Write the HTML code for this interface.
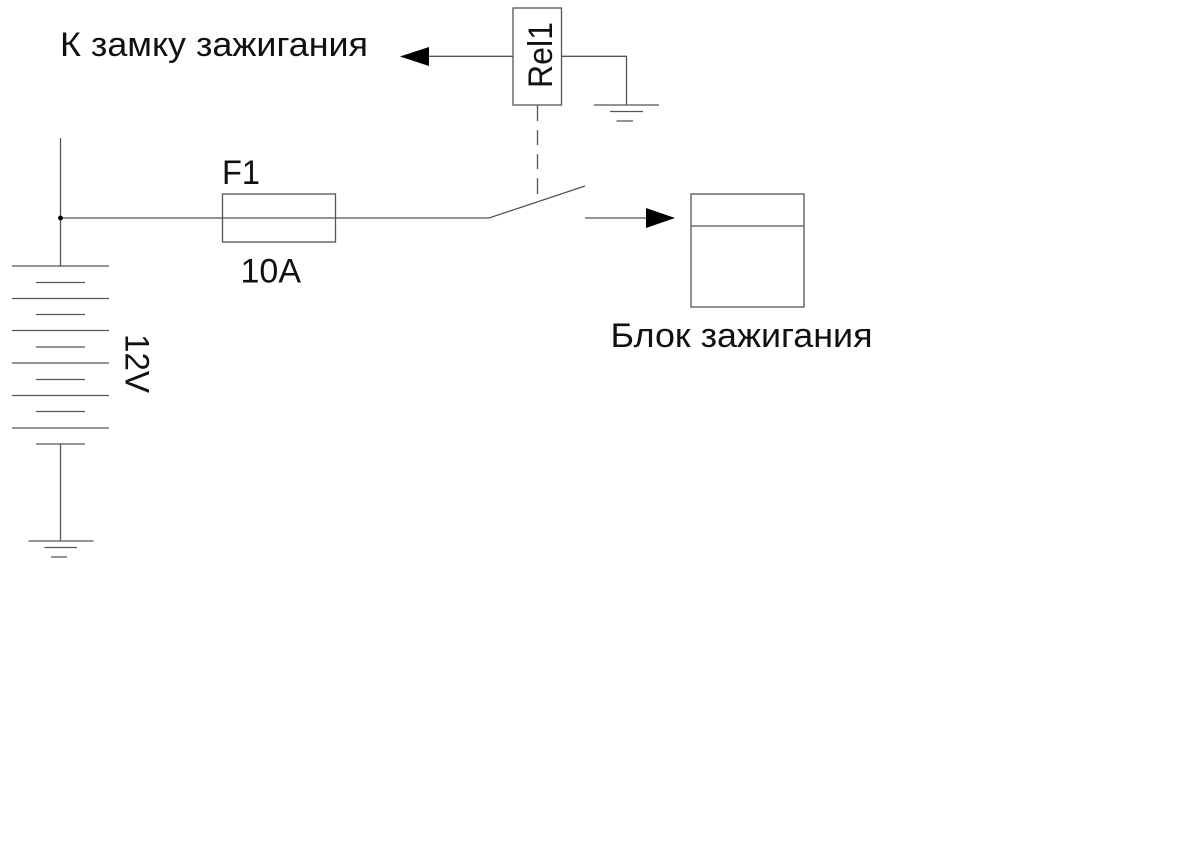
<!DOCTYPE html>
<html><head><meta charset="utf-8"><style>
html,body{margin:0;padding:0;background:#fff}
svg{display:block}
text{font-family:"Liberation Sans",sans-serif;font-size:34px;fill:#111}
</style></head><body>
<svg width="1200" height="848" viewBox="0 0 1200 848" xmlns="http://www.w3.org/2000/svg">
<rect width="1200" height="848" fill="#fff"/>
<g stroke="#555" stroke-width="1.3" fill="none">
<path d="M60.500 138V266M60.500 218H489L585 186"/>
<path d="M12 266H109M36 282.500H85M12 298.500H109M36 314.500H85M12 330.500H109M36 347H85M12 363H109M36 379.500H85M12 395.500H109M36 411.500H85M12 428H109M36 444H85"/>
<path d="M60.500 444V541M28.500 541H93.500M44.500 547.500H77M51 557H67"/>
<rect x="222.500" y="194" width="113" height="48"/>
<rect x="513" y="8" width="48.500" height="97"/>
<path d="M429 56.300H513M561.500 56.300H626.500V105M594 105H659M610 111.500H643M616.500 121H633"/>
<path d="M537.500 105V121M537.500 130V145M537.500 154V169M537.500 178V194"/>
<path d="M585 218H647"/>
<rect x="691" y="194" width="113" height="113"/>
<path d="M691 226H804"/>
</g>
<circle cx="60.500" cy="218" r="2.400" fill="#000"/>
<polygon points="400,56.500 429,47 429,66" fill="#000"/>
<polygon points="675,218 646,208 646,228" fill="#000"/>
<text x="60" y="56" textLength="308" lengthAdjust="spacingAndGlyphs" font-size="34">К замку зажигания</text>
<text x="610.500" y="347" textLength="262" lengthAdjust="spacingAndGlyphs">Блок зажигания</text>
<text x="222" y="184" textLength="38" lengthAdjust="spacingAndGlyphs">F1</text>
<text x="240.500" y="282.500">10A</text>
<text transform="translate(552,88) rotate(-90)" textLength="66" lengthAdjust="spacingAndGlyphs">Rel1</text>
<text transform="translate(125.500,334) rotate(90)" textLength="59" lengthAdjust="spacingAndGlyphs">12V</text>
</svg>
</body></html>
